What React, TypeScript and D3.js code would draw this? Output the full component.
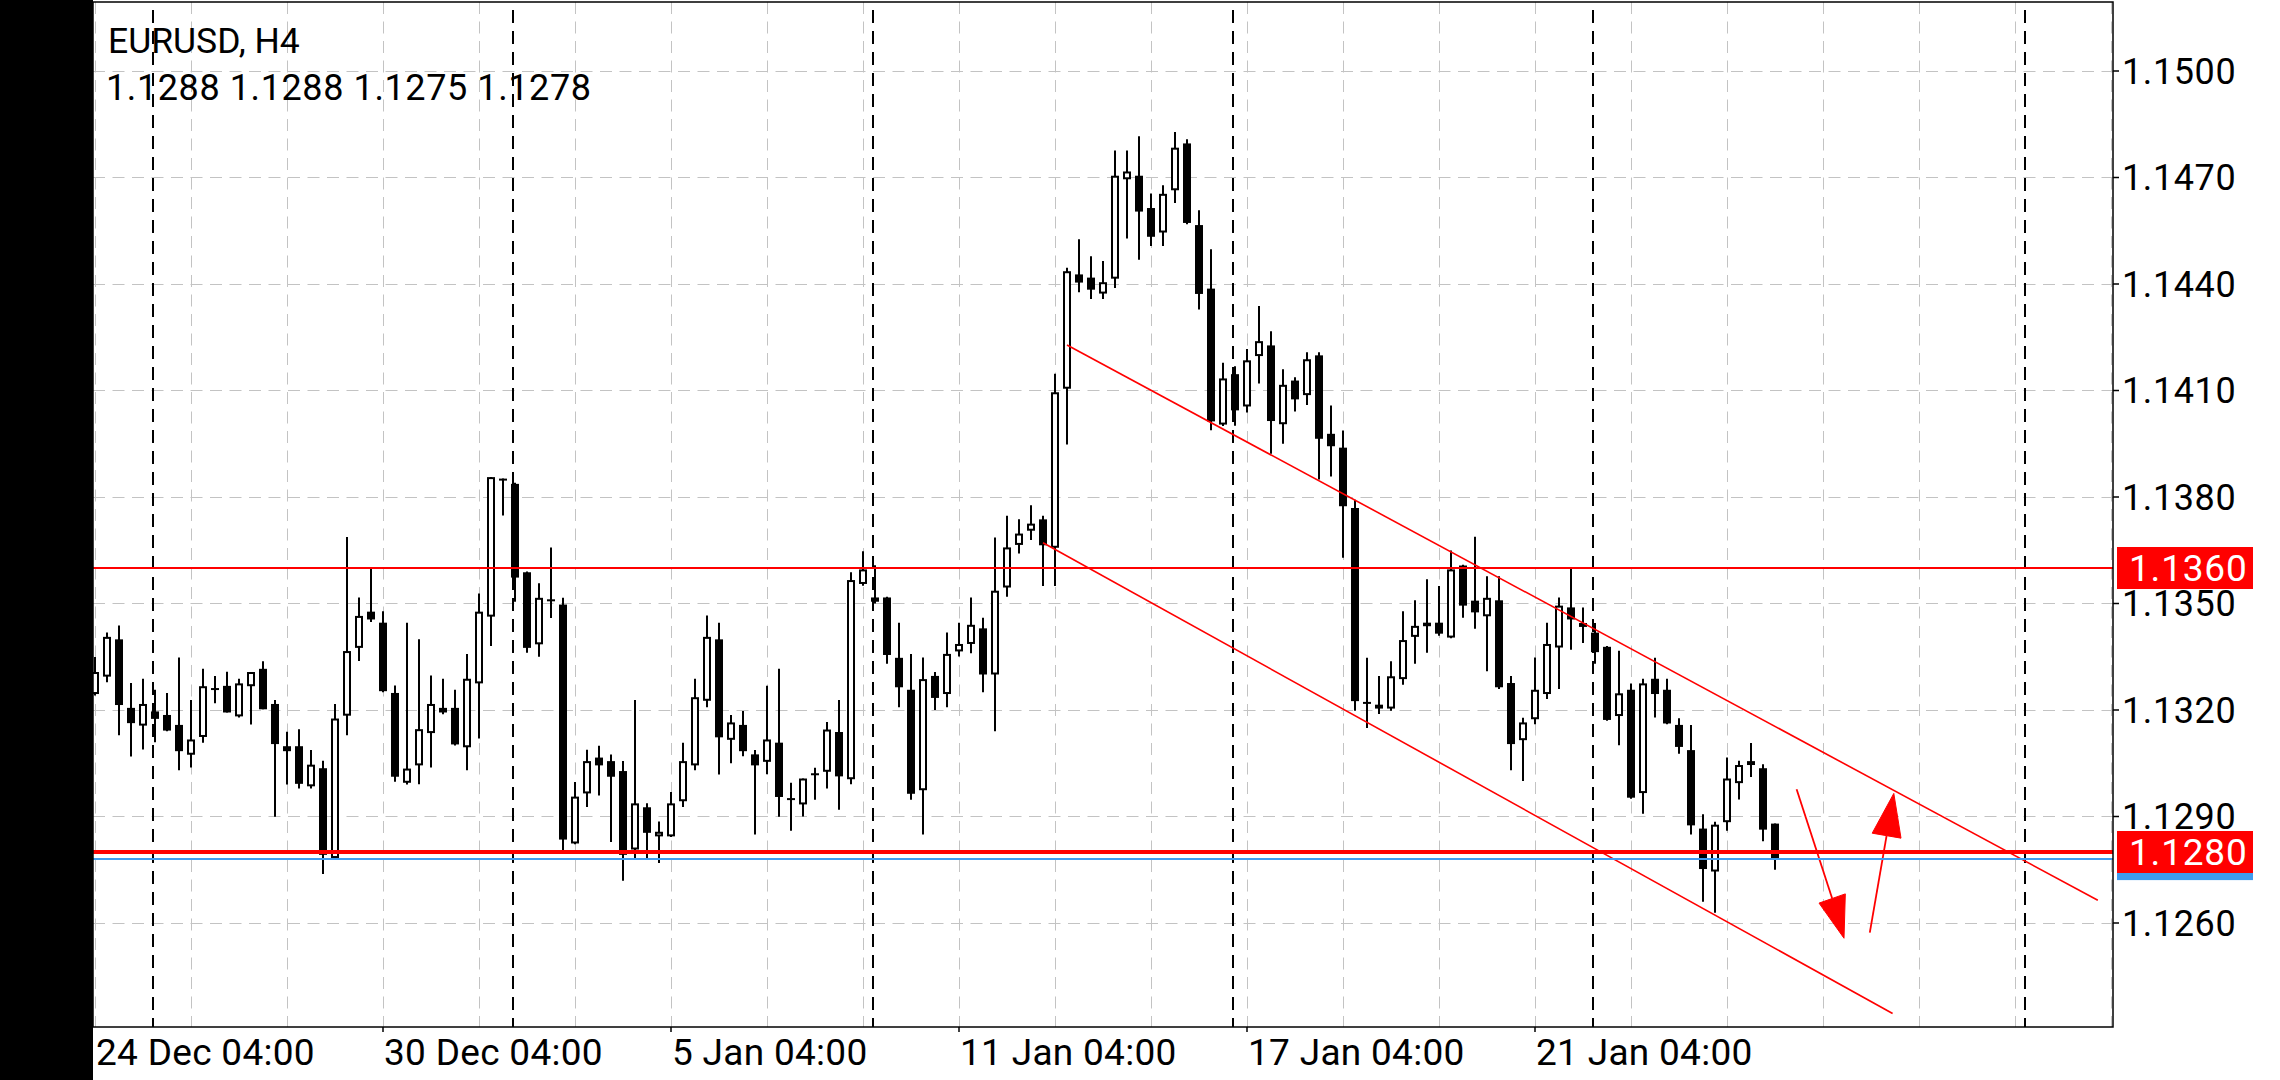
import * as d3 from "d3";
import { useEffect, useRef } from "react";

const WIDTH = 2280;
const HEIGHT = 1080;

// plot frame (pixels)
const PLOT = { left: 93, right: 2113, top: 2, bottom: 1027 };

const SYMBOL = "EURUSD, H4";
const LAST_QUOTE = ["1.1288", "1.1288", "1.1275", "1.1278"];

// H4 candles, bar 0 = 24 Dec 04:00
const opens = [
  1.13245, 1.13294, 1.13399, 1.13206, 1.13156, 1.13196, 1.13186, 1.13158, 1.13074, 1.13124,
  1.13258, 1.13268, 1.13182, 1.13267, 1.13316, 1.13217, 1.13098, 1.13098, 1.12985, 1.13036,
  1.12783, 1.13184, 1.13375, 1.13477, 1.13446, 1.13248, 1.12995, 1.13044, 1.13135, 1.13206,
  1.13206, 1.13095, 1.13275, 1.13463, 1.1385, 1.13837, 1.13588, 1.13385, 1.1351, 1.13497,
  1.12824, 1.12965, 1.13066, 1.13056, 1.13028, 1.12807, 1.12926, 1.12844, 1.12844, 1.12943,
  1.13044, 1.13226, 1.13399, 1.13116, 1.13158, 1.13075, 1.13054, 1.13108, 1.12948, 1.12934,
  1.13018, 1.13026, 1.13138, 1.13005, 1.13555, 1.13517, 1.13517, 1.13347, 1.13257, 1.12974,
  1.13296, 1.13245, 1.13365, 1.13386, 1.1343, 1.133, 1.13545, 1.13665, 1.13705, 1.13737,
  1.13657, 1.14105, 1.14427, 1.14418, 1.14373, 1.14415, 1.14695, 1.14705, 1.14614, 1.14545,
  1.14664, 1.14796, 1.14566, 1.14387, 1.14004, 1.14146, 1.14055, 1.14197, 1.14227, 1.14005,
  1.14128, 1.14087, 1.14199, 1.13978, 1.13939, 1.13769, 1.13219, 1.13204, 1.13204, 1.13287,
  1.13406, 1.13446, 1.13446, 1.13404, 1.13607, 1.13508, 1.13464, 1.13509, 1.13276, 1.13115,
  1.13174, 1.13245, 1.13376, 1.13489, 1.13445, 1.13418, 1.13378, 1.13183, 1.13257, 1.12966,
  1.13288, 1.13257, 1.13158, 1.13087, 1.12866, 1.12745, 1.12884, 1.12994, 1.13056, 1.13036,
  1.1288,
];
const highs = [
  1.13349, 1.13418, 1.13438, 1.13276, 1.13288, 1.13257, 1.13248, 1.13348, 1.13228, 1.13316,
  1.13296, 1.13308, 1.13288, 1.13307, 1.13337, 1.13228, 1.13139, 1.13146, 1.13087, 1.13057,
  1.13217, 1.13687, 1.13517, 1.13597, 1.13478, 1.13269, 1.13446, 1.13399, 1.13297, 1.13288,
  1.13257, 1.13358, 1.13528, 1.13856, 1.13852, 1.1384, 1.1359, 1.13557, 1.13658, 1.13516,
  1.12997, 1.13088, 1.13099, 1.13075, 1.13056, 1.13228, 1.12937, 1.12886, 1.12969, 1.13108,
  1.13288, 1.13466, 1.13446, 1.13186, 1.13197, 1.13087, 1.13268, 1.13316, 1.12995, 1.13007,
  1.13037, 1.13166, 1.13228, 1.13588, 1.13647, 1.13608, 1.13519, 1.13446, 1.13358, 1.13348,
  1.13307, 1.13418, 1.13446, 1.13517, 1.1346, 1.13686, 1.13747, 1.13737, 1.13777, 1.13747,
  1.14147, 1.14446, 1.14526, 1.14478, 1.14465, 1.14776, 1.14776, 1.14816, 1.14655, 1.14678,
  1.14828, 1.14808, 1.14608, 1.14498, 1.14178, 1.14168, 1.14217, 1.14338, 1.14267, 1.1416,
  1.14137, 1.14208, 1.14208, 1.14058, 1.13987, 1.13792, 1.13347, 1.13296, 1.13337, 1.13478,
  1.13509, 1.13568, 1.13549, 1.13649, 1.13609, 1.13688, 1.13577, 1.13577, 1.13296, 1.13178,
  1.13348, 1.13446, 1.13517, 1.13597, 1.13489, 1.13445, 1.1338, 1.13367, 1.13275, 1.13288,
  1.13347, 1.13288, 1.13177, 1.13158, 1.12906, 1.12885, 1.13066, 1.13057, 1.13107, 1.13047,
  1.1288,
];
const lows = [
  1.13241, 1.13278, 1.13129, 1.13069, 1.13089, 1.13109, 1.1314, 1.1303, 1.13038, 1.13108,
  1.13219, 1.13193, 1.13179, 1.13159, 1.13202, 1.12899, 1.1299, 1.12979, 1.12979, 1.12738,
  1.12778, 1.13129, 1.13338, 1.13448, 1.1325, 1.12998, 1.1299, 1.12991, 1.13038, 1.13188,
  1.131, 1.1303, 1.1312, 1.1338, 1.13748, 1.13505, 1.13361, 1.1335, 1.13459, 1.12799,
  1.12822, 1.12927, 1.12959, 1.12828, 1.12719, 1.12778, 1.12778, 1.12769, 1.12842, 1.12927,
  1.1303, 1.13208, 1.13018, 1.1305, 1.1307, 1.12849, 1.13019, 1.12899, 1.1286, 1.129,
  1.12947, 1.12979, 1.12919, 1.12991, 1.1355, 1.135, 1.1333, 1.13208, 1.12947, 1.12849,
  1.132, 1.13208, 1.13351, 1.1336, 1.1325, 1.1314, 1.13519, 1.13641, 1.13679, 1.13549,
  1.13549, 1.13948, 1.14377, 1.14358, 1.14358, 1.14389, 1.14528, 1.14468, 1.14507, 1.14507,
  1.14628, 1.14568, 1.14328, 1.13988, 1.14, 1.14001, 1.14038, 1.1412, 1.13922, 1.1395,
  1.14041, 1.14059, 1.13849, 1.13858, 1.13629, 1.13198, 1.13149, 1.13189, 1.13198, 1.13271,
  1.1333, 1.13361, 1.13409, 1.13402, 1.1346, 1.13429, 1.13309, 1.13259, 1.1303, 1.13,
  1.1316, 1.13231, 1.13259, 1.1337, 1.13389, 1.1333, 1.1317, 1.13101, 1.1295, 1.12908,
  1.13179, 1.1316, 1.13077, 1.12849, 1.1266, 1.12629, 1.1286, 1.12948, 1.13011, 1.1283,
  1.1275,
];
const closes = [
  1.13307, 1.13406, 1.13214, 1.13163, 1.13217, 1.13175, 1.13142, 1.13084, 1.13117, 1.13267,
  1.1326, 1.13193, 1.13275, 1.13307, 1.13202, 1.13104, 1.13084, 1.12992, 1.13046, 1.12792,
  1.13176, 1.13366, 1.13465, 1.13455, 1.13253, 1.13012, 1.13035, 1.13146, 1.13217, 1.13193,
  1.13103, 1.13288, 1.13477, 1.13856, 1.13848, 1.13573, 1.13375, 1.13516, 1.13508, 1.12835,
  1.12956, 1.13056, 1.13044, 1.13012, 1.12792, 1.12937, 1.12854, 1.12857, 1.12937, 1.13056,
  1.13236, 1.13406, 1.13123, 1.13165, 1.13084, 1.13044, 1.13117, 1.12955, 1.1295, 1.13007,
  1.1302, 1.13145, 1.13013, 1.13566, 1.13596, 1.13505, 1.13355, 1.13264, 1.12964, 1.13287,
  1.13234, 1.13358, 1.13386, 1.1344, 1.133, 1.13536, 1.13658, 1.13697, 1.13725, 1.13664,
  1.14095, 1.14436, 1.14404, 1.14384, 1.14405, 1.14705, 1.14717, 1.14604, 1.14533, 1.14654,
  1.14784, 1.14572, 1.14372, 1.14013, 1.14134, 1.14044, 1.14185, 1.14239, 1.14014, 1.14116,
  1.14075, 1.14188, 1.13964, 1.13943, 1.13774, 1.13225, 1.13221, 1.13215, 1.13295, 1.13397,
  1.13437, 1.13436, 1.13415, 1.13596, 1.13494, 1.13475, 1.13516, 1.13264, 1.13104, 1.13165,
  1.13257, 1.13386, 1.13494, 1.13455, 1.13434, 1.13363, 1.13172, 1.13247, 1.12953, 1.13275,
  1.13245, 1.13162, 1.13096, 1.12875, 1.12752, 1.12877, 1.13007, 1.13045, 1.13045, 1.12863,
  1.1278,
];

const priceTicks = [1.126, 1.129, 1.132, 1.135, 1.138, 1.141, 1.144, 1.147, 1.15];
const timeLabels = ["24 Dec 04:00", "30 Dec 04:00", "5 Jan 04:00", "11 Jan 04:00", "17 Jan 04:00", "21 Jan 04:00"];
const timeLabelBars = [0, 24, 48, 72, 96, 120];
const gridBars = [0, 8, 16, 24, 32, 40, 48, 56, 64, 72, 80, 88, 96, 104, 112, 120, 128, 136, 144, 152, 160, 168];
const weekSeparatorBars = [5, 35, 65, 95, 125, 161];

// drawn objects: horizontal levels, trend lines, arrows (bar index, price)
const resistance = 1.136;
const support = 1.128;
const bid = 1.1278;
const upperTrend: [number, number][] = [[81, 1.14228], [166.9, 1.12664]];
const lowerTrend: [number, number][] = [[79, 1.13671], [149.8, 1.12345]];
const downArrow: [number, number][] = [[141.8, 1.12977], [145.75, 1.12557], [143.67, 1.12656], [145.86, 1.12682]];
const upArrow: [number, number][] = [[147.9, 1.12573], [149.9, 1.12965], [148.1, 1.12853], [150.5, 1.12839]];

const FONT = "Roboto, 'Noto Sans', sans-serif";
const RED = "#ff0000";
const BLUE = "#3f9cf0";
const GRID = "#c3c3c3";

type Bar = { i: number; o: number; h: number; l: number; c: number };

export default function App() {
  const svgRef = useRef<SVGSVGElement>(null);

  useEffect(() => {
    drawChart(svgRef.current);
  }, []);

  return (
    <svg
      ref={svgRef}
      width={WIDTH}
      height={HEIGHT}
      viewBox={`0 0 ${WIDTH} ${HEIGHT}`}
      style={{ position: "fixed", left: 0, top: 0, display: "block" }}
    />
  );
}

function drawChart(svgElement: SVGSVGElement | null) {
  if (!svgElement) return;

  const svg = d3.select(svgElement);
  svg.selectAll("*").remove();

  const x = d3.scaleLinear().domain([0, 168]).range([95, 2111]);
  const y = d3.scaleLinear().domain([1.126, 1.15]).range([923, 71]);

  svg.append("rect").attr("width", WIDTH).attr("height", HEIGHT).attr("fill", "#fff");
  svg.append("rect").attr("width", PLOT.left).attr("height", HEIGHT).attr("fill", "#000");

  svg
    .append("defs")
    .append("clipPath")
    .attr("id", "plot-clip")
    .append("rect")
    .attr("x", PLOT.left)
    .attr("y", PLOT.top)
    .attr("width", PLOT.right - PLOT.left)
    .attr("height", PLOT.bottom - PLOT.top);

  const plot = svg.append("g").attr("clip-path", "url(#plot-clip)");

  // grid
  plot
    .selectAll(".hgrid")
    .data(priceTicks)
    .join("line")
    .attr("x1", PLOT.left)
    .attr("x2", PLOT.right)
    .attr("y1", (d) => Math.round(y(d)) + 0.5)
    .attr("y2", (d) => Math.round(y(d)) + 0.5)
    .attr("stroke", GRID)
    .attr("stroke-width", 1)
    .attr("stroke-dasharray", "12,7.5");

  plot
    .selectAll(".vgrid")
    .data(gridBars)
    .join("line")
    .attr("x1", (d) => x(d) + 0.5)
    .attr("x2", (d) => x(d) + 0.5)
    .attr("y1", PLOT.top)
    .attr("y2", PLOT.bottom)
    .attr("stroke", GRID)
    .attr("stroke-width", 1)
    .attr("stroke-dasharray", "12,7.5");

  // week separators
  plot
    .selectAll(".sep")
    .data(weekSeparatorBars)
    .join("line")
    .attr("x1", (d) => x(d) - 2)
    .attr("x2", (d) => x(d) - 2)
    .attr("y1", PLOT.top + 8)
    .attr("y2", PLOT.bottom)
    .attr("stroke", "#000")
    .attr("stroke-width", 2)
    .attr("stroke-dasharray", "13,8");

  // candles
  const bars: Bar[] = opens.map((o, i) => ({ i, o, h: highs[i], l: lows[i], c: closes[i] }));
  const candle = plot.selectAll(".candle").data(bars).join("g");

  candle
    .append("line")
    .attr("x1", (d) => x(d.i))
    .attr("x2", (d) => x(d.i))
    .attr("y1", (d) => y(d.h))
    .attr("y2", (d) => y(d.l))
    .attr("stroke", "#000")
    .attr("stroke-width", 2);

  candle.each(function (d) {
    const g = d3.select(this);
    const cx = x(d.i);
    const yo = y(d.o);
    const yc = y(d.c);
    const top = Math.min(yo, yc);
    const h = Math.abs(yo - yc);
    if (h < 2.5) {
      g.append("line")
        .attr("x1", cx - 4)
        .attr("x2", cx + 4)
        .attr("y1", (yo + yc) / 2)
        .attr("y2", (yo + yc) / 2)
        .attr("stroke", "#000")
        .attr("stroke-width", 2);
    } else if (d.c >= d.o) {
      g.append("rect")
        .attr("x", cx - 3)
        .attr("y", top + 1)
        .attr("width", 6)
        .attr("height", Math.max(0, h - 2))
        .attr("fill", "#fff")
        .attr("stroke", "#000")
        .attr("stroke-width", 2);
    } else {
      g.append("rect")
        .attr("x", cx - 4)
        .attr("y", top)
        .attr("width", 8)
        .attr("height", h)
        .attr("fill", "#000");
    }
  });

  // trend lines
  [upperTrend, lowerTrend].forEach((pts) => {
    plot
      .append("line")
      .attr("x1", x(pts[0][0]))
      .attr("y1", y(pts[0][1]))
      .attr("x2", x(pts[1][0]))
      .attr("y2", y(pts[1][1]))
      .attr("stroke", RED)
      .attr("stroke-width", 1.6);
  });

  // arrows
  [downArrow, upArrow].forEach((pts) => {
    const [from, tip, b1, b2] = pts;
    plot
      .append("line")
      .attr("x1", x(from[0]))
      .attr("y1", y(from[1]))
      .attr("x2", x((b1[0] + b2[0]) / 2))
      .attr("y2", y((b1[1] + b2[1]) / 2))
      .attr("stroke", RED)
      .attr("stroke-width", 1.8);
    plot
      .append("polygon")
      .attr("points", [tip, b1, b2].map((p) => `${x(p[0])},${y(p[1])}`).join(" "))
      .attr("fill", RED)
      .attr("stroke", RED)
      .attr("stroke-width", 1);
  });

  // horizontal levels
  plot
    .append("line")
    .attr("x1", PLOT.left)
    .attr("x2", PLOT.right)
    .attr("y1", y(bid))
    .attr("y2", y(bid))
    .attr("stroke", BLUE)
    .attr("stroke-width", 2);
  plot
    .append("line")
    .attr("x1", PLOT.left)
    .attr("x2", PLOT.right)
    .attr("y1", y(resistance))
    .attr("y2", y(resistance))
    .attr("stroke", RED)
    .attr("stroke-width", 2);
  plot
    .append("line")
    .attr("x1", PLOT.left)
    .attr("x2", PLOT.right)
    .attr("y1", y(support))
    .attr("y2", y(support))
    .attr("stroke", RED)
    .attr("stroke-width", 4);

  // frame
  svg
    .append("rect")
    .attr("x", PLOT.left)
    .attr("y", PLOT.top)
    .attr("width", PLOT.right - PLOT.left)
    .attr("height", PLOT.bottom - PLOT.top)
    .attr("fill", "none")
    .attr("stroke", "#000")
    .attr("stroke-width", 1.5);

  // price axis
  svg
    .selectAll(".ytick")
    .data(priceTicks)
    .join("line")
    .attr("x1", PLOT.right)
    .attr("x2", PLOT.right + 6)
    .attr("y1", (d) => y(d))
    .attr("y2", (d) => y(d))
    .attr("stroke", "#000")
    .attr("stroke-width", 1.5);

  svg
    .selectAll(".ylabel")
    .data(priceTicks)
    .join("text")
    .attr("x", 2122)
    .attr("y", (d) => y(d) + 12.5)
    .attr("font-family", FONT)
    .attr("font-size", 36)
    .attr("letter-spacing", 0.6)
    .attr("fill", "#000")
    .text((d) => d3.format(".4f")(d));

  // price boxes
  const boxes = [
    { price: bid, color: BLUE, label: false },
    { price: resistance, color: RED, label: true },
    { price: support, color: RED, label: true },
  ];
  boxes.forEach((b) => {
    svg
      .append("rect")
      .attr("x", 2117)
      .attr("y", y(b.price) - 21)
      .attr("width", 136)
      .attr("height", 42)
      .attr("fill", b.color);
    if (b.label) {
      svg
        .append("text")
        .attr("x", 2129)
        .attr("y", y(b.price) + 13)
        .attr("font-family", FONT)
        .attr("font-size", 37)
        .attr("letter-spacing", 0.8)
        .attr("fill", "#fff")
        .text(d3.format(".4f")(b.price));
    }
  });

  // time axis
  svg
    .selectAll(".xtick")
    .data(timeLabelBars.slice(1))
    .join("line")
    .attr("x1", (d) => x(d))
    .attr("x2", (d) => x(d))
    .attr("y1", PLOT.bottom)
    .attr("y2", PLOT.bottom + 5)
    .attr("stroke", "#000")
    .attr("stroke-width", 1.5);

  svg
    .selectAll(".xlabel")
    .data(timeLabels)
    .join("text")
    .attr("x", (_, i) => x(timeLabelBars[i]) + 1)
    .attr("y", 1065)
    .attr("font-family", FONT)
    .attr("font-size", 37)
    .attr("letter-spacing", 0.3)
    .attr("fill", "#000")
    .text((d) => d);

  // header
  svg
    .append("text")
    .attr("x", 108)
    .attr("y", 53)
    .attr("font-family", FONT)
    .attr("font-size", 35.5)
    .attr("fill", "#000")
    .text(SYMBOL);

  svg
    .append("text")
    .attr("x", 106)
    .attr("y", 100)
    .attr("font-family", FONT)
    .attr("font-size", 36)
    .attr("letter-spacing", 0.6)
    .attr("fill", "#000")
    .text(LAST_QUOTE.join(" "));
}
